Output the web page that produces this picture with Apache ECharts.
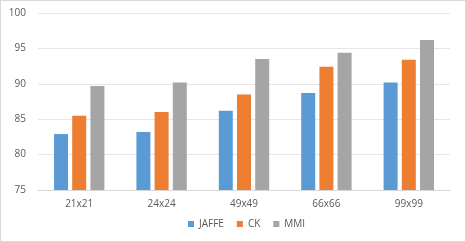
<!DOCTYPE html>
<html>
<head>
<meta charset="utf-8">
<script src="https://cdn.jsdelivr.net/npm/echarts@6/dist/echarts.min.js"></script>
<style>
html, body { margin: 0; padding: 0; background: #fff; }
#chart { width: 464px; height: 240px; border: 1px solid #d9d9d9; }
</style>
</head>
<body>
<div id="chart"></div>
<script>
// 数据
var categories = ['21x21', '24x24', '49x49', '66x66', '99x99'];
var jaffeData = [82.9, 83.2, 86.2, 88.7, 90.2];
var ckData = [85.5, 86.0, 88.5, 92.4, 93.4];
var mmiData = [89.7, 90.2, 93.5, 94.4, 96.2];

var chart = echarts.init(document.getElementById('chart'));

function barSeries(name, data, color) {
	return {
		name: name,
		type: 'bar',
		data: data,
		barWidth: 14,
		barGap: '30%',
		itemStyle: { color: color }
	};
}

var option = {
	animation: false,
	textStyle: { fontFamily: 'Open Sans', color: '#595959' },
	grid: { left: 37, right: 15, top: 12, bottom: 51 },
	legend: {
		bottom: 7,
		left: 182,
		itemWidth: 6,
		itemHeight: 6,
		itemGap: 13,
		icon: 'rect',
		textStyle: { fontSize: 10, color: '#595959' },
		data: ['JAFFE', 'CK', 'MMI']
	},
	xAxis: {
		type: 'category',
		data: categories,
		axisLine: { lineStyle: { color: '#d9d9d9' } },
		axisTick: { show: false },
		axisLabel: { fontSize: 10, color: '#595959', margin: 9 }
	},
	yAxis: {
		type: 'value',
		min: 75,
		max: 100,
		interval: 5,
		axisLine: { show: false },
		axisTick: { show: false },
		axisLabel: { fontSize: 10, color: '#595959', margin: 12 },
		splitLine: { lineStyle: { color: '#e6e6e6' } }
	},
	series: [
		barSeries('JAFFE', jaffeData, '#5b9bd5'),
		barSeries('CK', ckData, '#ed7d31'),
		barSeries('MMI', mmiData, '#a5a5a5')
	]
};
chart.setOption(option);
</script>
</body>
</html>
